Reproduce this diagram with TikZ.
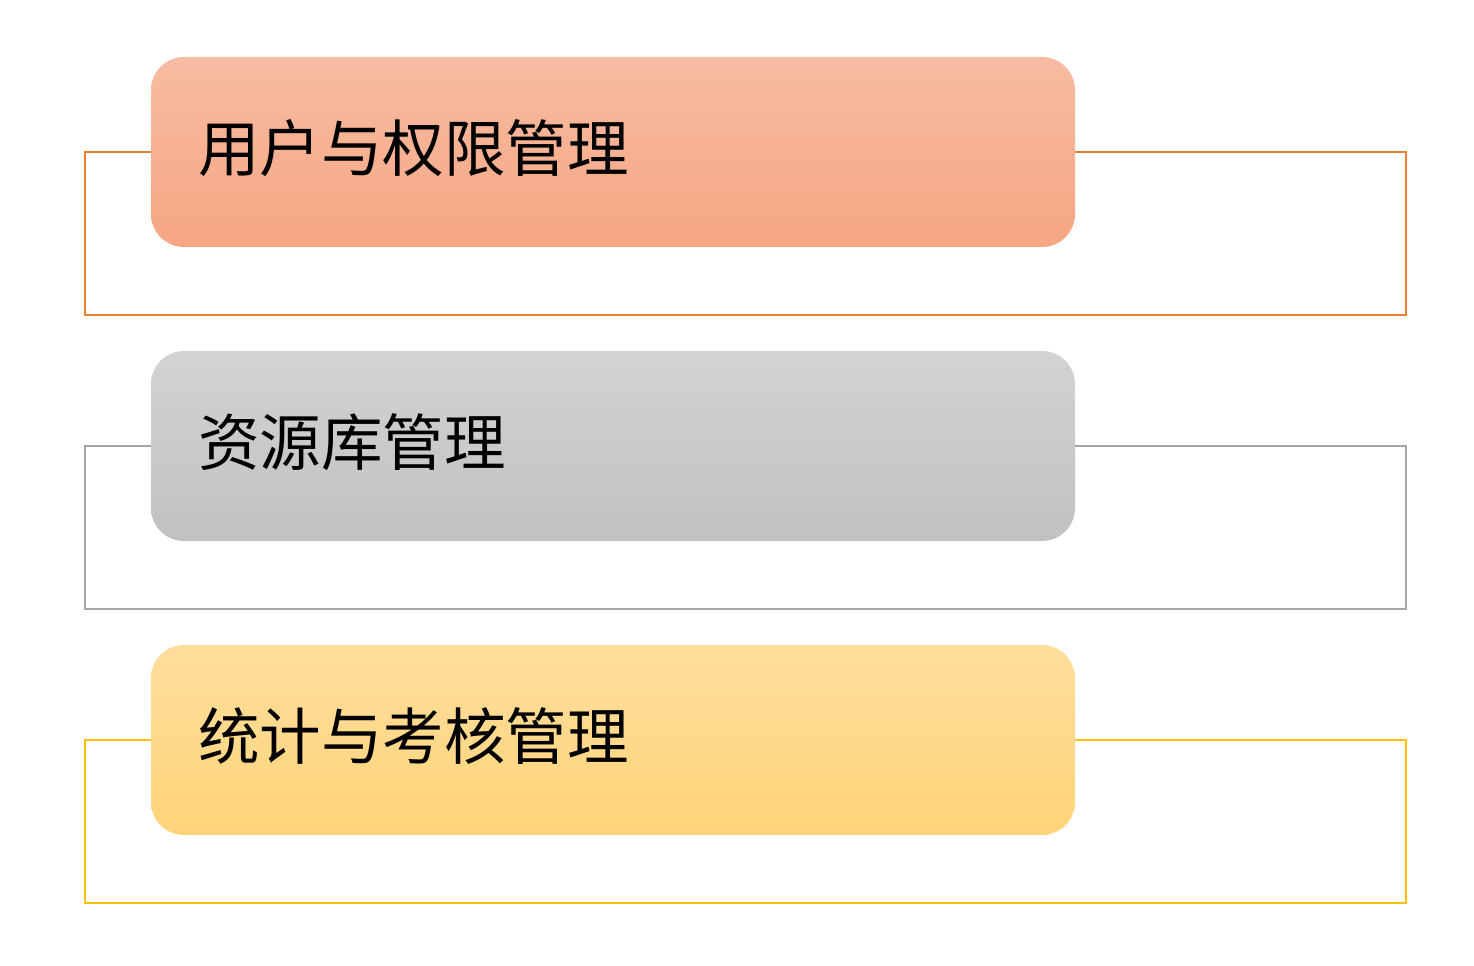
\documentclass[tikz,border=0pt]{standalone}
\usepackage{fontspec}
\newfontfamily\cjk{Noto Sans CJK SC}
\usetikzlibrary{positioning,calc}
\definecolor{orangeline}{HTML}{ED7D31}
\definecolor{orangetop}{HTML}{F7BCA2}
\definecolor{orangebot}{HTML}{F6A683}
\definecolor{grayline}{HTML}{A5A5A5}
\definecolor{graytop}{HTML}{D3D3D3}
\definecolor{graybot}{HTML}{C1C1C1}
\definecolor{goldline}{HTML}{FFC000}
\definecolor{goldtop}{HTML}{FFDE9D}
\definecolor{goldbot}{HTML}{FFD479}
\tikzset{
    frame/.style={draw, line width=1.1pt, minimum width=26.42cm, minimum height=3.26cm, inner sep=0pt},
    tab/.style={rounded corners=0.66cm, minimum width=18.48cm, minimum height=3.8cm, inner sep=0pt},
    label/.style={anchor=west, inner sep=0pt, yshift=0.08cm, font=\cjk\fontsize{35}{40}\selectfont}
}

\begin{document}
\begin{tikzpicture}
    \useasboundingbox (0,0) rectangle (29.48,-19.32);
    % user and rights
    \node[frame, draw=orangeline] (f1) at (14.91,-4.67) {};
    \node[tab, top color=orangetop, bottom color=orangebot] (b1) at (12.26,-3.04) {};
    \node[label, right=0.94cm of b1.west] (t1) {用户与权限管理};
    % resources
    \node[frame, draw=grayline] (f2) at (14.91,-10.55) {};
    \node[tab, top color=graytop, bottom color=graybot] (b2) at (12.26,-8.92) {};
    \node[label, right=0.94cm of b2.west] (t2) {资源库管理};
    % statistics
    \node[frame, draw=goldline] (f3) at (14.91,-16.43) {};
    \node[tab, top color=goldtop, bottom color=goldbot] (b3) at (12.26,-14.80) {};
    \node[label, right=0.94cm of b3.west] (t3) {统计与考核管理};
\end{tikzpicture}
\end{document}
